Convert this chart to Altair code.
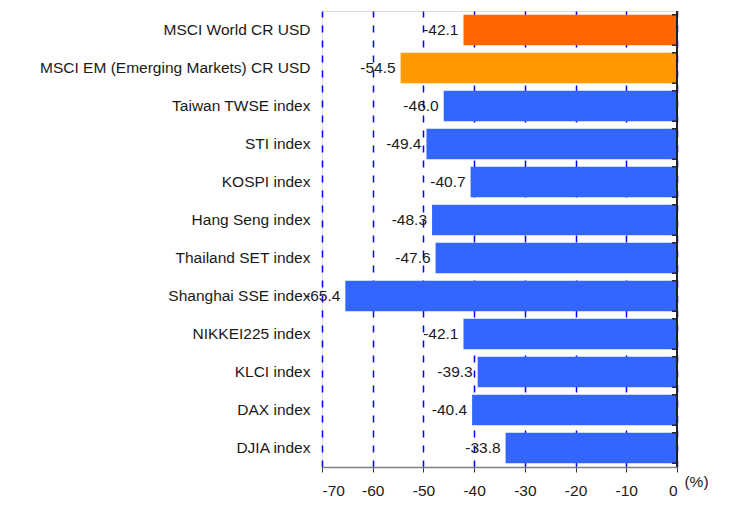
import altair as alt
import pandas as pd

categories = [
    "MSCI World CR USD",
    "MSCI EM (Emerging Markets) CR USD",
    "Taiwan TWSE index",
    "STI index",
    "KOSPI index",
    "Hang Seng index",
    "Thailand SET index",
    "Shanghai SSE index",
    "NIKKEI225  index",
    "KLCI index",
    "DAX index",
    "DJIA index",
]
values = [-42.1, -54.5, -46.0, -49.4, -40.7, -48.3, -47.6, -65.4, -42.1, -39.3, -40.4, -33.8]
colors = ["#FF6600", "#FF9900"] + ["#3366FF"] * 10
x_ticks = [-70, -60, -50, -40, -30, -20, -10, 0]

df = pd.DataFrame({
    "name": categories,
    "value": values,
    "color": colors,
    "label": [f"{v:.1f}" for v in values],
})

FONT = "Liberation Sans"
FS = 15.5
W, H = 355, 456

y_enc = alt.Y("name:N", sort=categories,
              scale=alt.Scale(paddingInner=0.2, paddingOuter=0.1),
              axis=alt.Axis(title=None, ticks=False, domain=False, labelPadding=12,
                            labelFont=FONT, labelFontSize=FS, labelColor="#1a1a1a",
                            labelLimit=400))
x_scale = alt.Scale(domain=[-70, 0], nice=False, zero=False)

bars = alt.Chart(df).mark_bar().encode(
    x=alt.X("value:Q", scale=x_scale,
            axis=alt.Axis(values=x_ticks, title="(%)", labelExpr="toString(datum.value)",
                          grid=True, gridColor="#0000FF", gridDash=[7, 8], gridWidth=1.5,
                          domainColor="#808080", domainWidth=1.5, tickColor="#333333",
                          tickSize=5, labelPadding=11, labelFont=FONT, labelFontSize=FS,
                          labelColor="#1a1a1a", titleFont=FONT, titleFontSize=FS,
                          titleFontWeight="normal", titleColor="#1a1a1a",
                          titleX=374, titleY=14, titleAlign="center",
                          titleBaseline="middle", titleAngle=0)),
    x2=alt.datum(0),
    y=y_enc,
    color=alt.Color("color:N", scale=None),
)

texts = alt.Chart(df).mark_text(align="right", baseline="middle", dx=-5,
                                font=FONT, fontSize=FS, color="#1a1a1a").encode(
    x="value:Q",
    y=alt.Y("name:N", sort=categories),
    text="label:N",
)

zero_line = alt.Chart(df).mark_rule(color="#222222", strokeWidth=1.5).encode(
    x=alt.datum(0)
)

tick_top = alt.Chart(df).mark_rule(color="#222222", strokeWidth=1.5).encode(
    x=alt.datum(0), x2=alt.datum(-1),
    y=alt.Y("name:N", sort=categories, bandPosition=0),
)
tick_bot = alt.Chart(df).mark_rule(color="#222222", strokeWidth=1.5).encode(
    x=alt.datum(0), x2=alt.datum(-1),
    y=alt.Y("name:N", sort=categories, bandPosition=1),
)

chart = alt.layer(bars, texts, zero_line, tick_top, tick_bot).properties(
    width=W, height=H,
    autosize=alt.AutoSizeParams(type="none"),
    padding={"left": 314, "top": 3, "right": 50, "bottom": 34},
).configure_view(stroke=None).configure(background="white")

chart.save("out.html", embed_options={"renderer": "svg", "actions": False})
